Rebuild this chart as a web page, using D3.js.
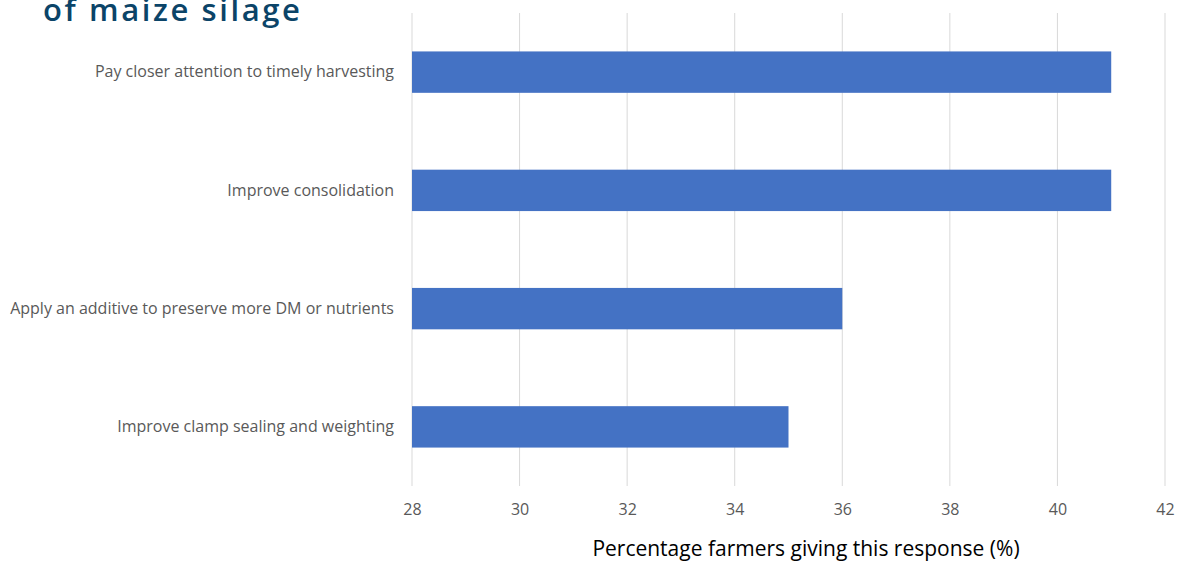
<!DOCTYPE html>
<html>
<head>
<meta charset="utf-8">
<script src="https://cdn.jsdelivr.net/npm/d3@7"></script>
<style>
  html, body { margin: 0; padding: 0; background: #fff; }
  svg { display: block; }
</style>
</head>
<body>
<svg id="chart" width="1179" height="562"></svg>
<script>
// Survey responses: actions farmers would take to improve maize silage
const categories = [
  "Pay closer attention to timely harvesting",
  "Improve consolidation",
  "Apply an additive to preserve more DM or nutrients",
  "Improve clamp sealing and weighting"
];
const percentages = [41, 41, 36, 35];
const tickValues = [28, 30, 32, 34, 36, 38, 40, 42];

const width = 1179, height = 562;
const margin = { top: 13, right: 14, bottom: 76, left: 412 };

const svg = d3.select("#chart");

const x = d3.scaleLinear()
  .domain([28, 42])
  .range([margin.left, width - margin.right]);

const y = d3.scaleBand()
  .domain(categories)
  .range([margin.top, height - margin.bottom])
  .paddingInner(0.65)
  .paddingOuter(0.325);

// Title (its upper part runs past the top of the frame)
svg.append("text")
  .attr("x", 43)
  .attr("y", 21)
  .attr("fill", "#0b4468")
  .attr("font-family", "'Open Sans', 'Noto Sans', sans-serif")
  .attr("font-weight", 600)
  .attr("font-size", 31)
  .attr("letter-spacing", 2.6)
  .text("of maize silage");

// Vertical gridlines
svg.append("g")
  .attr("class", "grid")
  .selectAll("line")
  .data(tickValues)
  .join("line")
  .attr("x1", d => x(d))
  .attr("x2", d => x(d))
  .attr("y1", margin.top)
  .attr("y2", height - margin.bottom)
  .attr("stroke", "#d9d9d9")
  .attr("stroke-width", 1);

// Bars
svg.append("g")
  .selectAll("rect")
  .data(categories.map((c, i) => ({ c, v: percentages[i] })))
  .join("rect")
  .attr("x", x(28))
  .attr("y", d => y(d.c))
  .attr("width", d => x(d.v) - x(28))
  .attr("height", y.bandwidth())
  .attr("fill", "#4472c4");

// X axis tick labels
const xAxis = d3.axisBottom(x)
  .tickValues(tickValues)
  .tickSize(0)
  .tickPadding(0)
  .tickFormat(d3.format("d"));

const gx = svg.append("g")
  .attr("transform", `translate(0,${height - margin.bottom + 18})`)
  .call(xAxis);
gx.select(".domain").remove();
gx.selectAll("text")
  .attr("fill", "#595959")
  .attr("font-family", "'Open Sans', sans-serif")
  .attr("font-size", 16)
  .attr("dy", "0.71em");

// Category labels
const yAxis = d3.axisLeft(y).tickSize(0).tickPadding(18);
const gy = svg.append("g")
  .attr("transform", `translate(${margin.left},0)`)
  .call(yAxis);
gy.select(".domain").remove();
gy.selectAll("text")
  .attr("fill", "#595959")
  .attr("font-family", "'Open Sans', sans-serif")
  .attr("font-size", 16);

// Axis title
svg.append("text")
  .attr("x", 806)
  .attr("y", 556)
  .attr("text-anchor", "middle")
  .attr("fill", "#000")
  .attr("font-family", "'Open Sans', sans-serif")
  .attr("font-size", 21)
  .text("Percentage farmers giving this response (%)");
</script>
</body>
</html>
